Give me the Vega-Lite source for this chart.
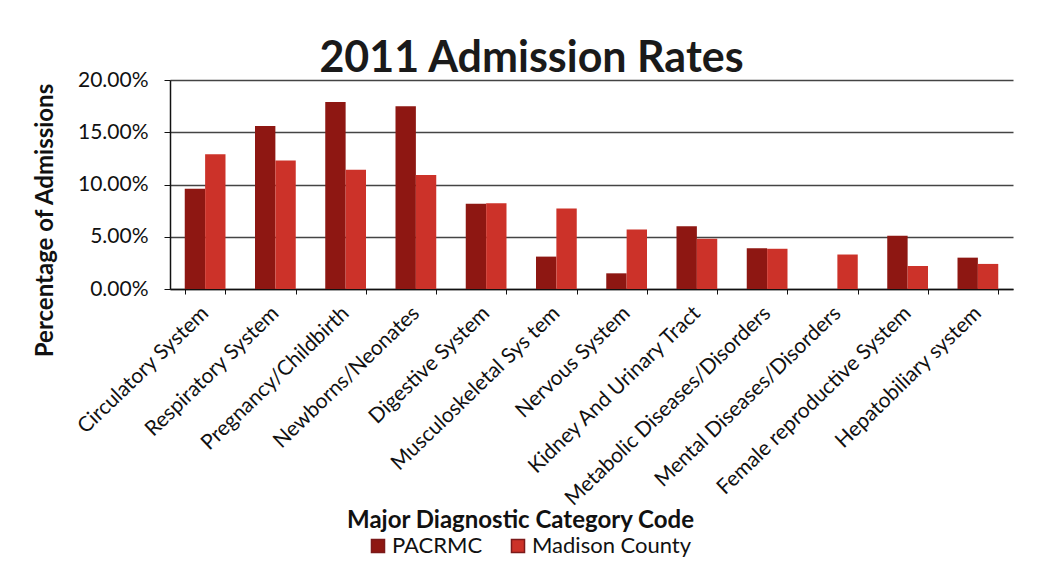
{
  "$schema": "https://vega.github.io/schema/vega-lite/v6.json",
  "width": 843,
  "height": 209,
  "autosize": {"type": "none"},
  "padding": {"left": 170, "top": 80, "right": 28, "bottom": 295},
  "background": "white",
  "title": {
    "text": "2011 Admission Rates",
    "font": "Lato",
    "fontSize": 43,
    "fontWeight": "bold",
    "color": "#1a1a1a",
    "anchor": "middle",
    "frame": "group",
    "dx": -60,
    "offset": -12
  },
  "data": {
    "values": [
      {"category": "Circulatory System", "series": "PACRMC", "rate": 0.096},
      {"category": "Circulatory System", "series": "Madison County", "rate": 0.129},
      {"category": "Respiratory System", "series": "PACRMC", "rate": 0.156},
      {"category": "Respiratory System", "series": "Madison County", "rate": 0.123},
      {"category": "Pregnancy/Childbirth", "series": "PACRMC", "rate": 0.179},
      {"category": "Pregnancy/Childbirth", "series": "Madison County", "rate": 0.114},
      {"category": "Newborns/Neonates", "series": "PACRMC", "rate": 0.175},
      {"category": "Newborns/Neonates", "series": "Madison County", "rate": 0.109},
      {"category": "Digestive System", "series": "PACRMC", "rate": 0.0815},
      {"category": "Digestive System", "series": "Madison County", "rate": 0.082},
      {"category": "Musculoskeletal Sys tem", "series": "PACRMC", "rate": 0.031},
      {"category": "Musculoskeletal Sys tem", "series": "Madison County", "rate": 0.077},
      {"category": "Nervous System", "series": "PACRMC", "rate": 0.015},
      {"category": "Nervous System", "series": "Madison County", "rate": 0.057},
      {"category": "Kidney And Urinary Tract", "series": "PACRMC", "rate": 0.06},
      {"category": "Kidney And Urinary Tract", "series": "Madison County", "rate": 0.048},
      {"category": "Metabolic Diseases/Disorders", "series": "PACRMC", "rate": 0.039},
      {"category": "Metabolic Diseases/Disorders", "series": "Madison County", "rate": 0.0385},
      {"category": "Mental Diseases/Disorders", "series": "PACRMC", "rate": 0},
      {"category": "Mental Diseases/Disorders", "series": "Madison County", "rate": 0.033},
      {"category": "Female reproductive System", "series": "PACRMC", "rate": 0.051},
      {"category": "Female reproductive System", "series": "Madison County", "rate": 0.022},
      {"category": "Hepatobiliary system", "series": "PACRMC", "rate": 0.03},
      {"category": "Hepatobiliary system", "series": "Madison County", "rate": 0.024}
    ]
  },
  "mark": {"type": "bar"},
  "encoding": {
    "x": {
      "field": "category",
      "type": "nominal",
      "sort": null,
      "scale": {"paddingInner": 0.42, "paddingOuter": 0.21},
      "title": "Major Diagnostic Category Code",
      "axis": {
        "labelAngle": -44,
        "labelAlign": "right",
        "labelBaseline": "middle",
        "labelFont": "Lato",
        "labelFontSize": 21,
        "labelColor": "#111",
        "labelPadding": 16,
        "labelLimit": 400,
        "domainColor": "#111",
        "domainWidth": 1.5,
        "tickColor": "#111",
        "tickSize": 5,
        "tickBand": "extent",
        "titleFont": "Lato",
        "titleFontSize": 24,
        "titleFontWeight": "bold",
        "titleColor": "#111",
        "titleX": 350,
        "titleY": 238,
        "titleAlign": "center",
        "titleBaseline": "alphabetic"
      }
    },
    "xOffset": {"field": "series", "type": "nominal", "sort": ["PACRMC", "Madison County"], "scale": {"paddingInner": 0, "paddingOuter": 0}},
    "y": {
      "field": "rate",
      "type": "quantitative",
      "scale": {"domain": [0, 0.2]},
      "title": "Percentage of Admissions",
      "axis": {
        "format": ".2%",
        "values": [0, 0.05, 0.1, 0.15, 0.2],
        "labelFont": "Lato",
        "labelFontSize": 21,
        "labelColor": "#111",
        "labelPadding": 16,
        "tickSize": 6,
        "tickColor": "#111",
        "domainColor": "#111",
        "domainWidth": 1.5,
        "gridColor": "#444",
        "gridWidth": 1.5,
        "titleFont": "Lato",
        "titleFontSize": 24,
        "titleFontWeight": "bold",
        "titleColor": "#111",
        "titleX": -125,
        "titleY": 140,
        "titleAngle": -90,
        "titleAlign": "center",
        "titleBaseline": "middle"
      }
    },
    "color": {
      "field": "series",
      "type": "nominal",
      "sort": ["PACRMC", "Madison County"],
      "scale": {"domain": ["PACRMC", "Madison County"], "range": ["#8e1712", "#cc3229"]},
      "legend": {
        "title": null,
        "orient": "none",
        "direction": "horizontal",
        "legendX": 197,
        "legendY": 455,
        "symbolType": "square",
        "symbolSize": 170,
        "labelFont": "Lato",
        "labelFontSize": 22,
        "labelColor": "#111",
        "labelLimit": 400,
        "columnPadding": 24,
        "labelOffset": 3,
        "encode": {"symbols": {"update": {"fill": {"value": "#7b1a1a"}, "stroke": {"value": "#7b1a1a"}}}}
      }
    }
  },
  "config": {"view": {"stroke": null}}
}
